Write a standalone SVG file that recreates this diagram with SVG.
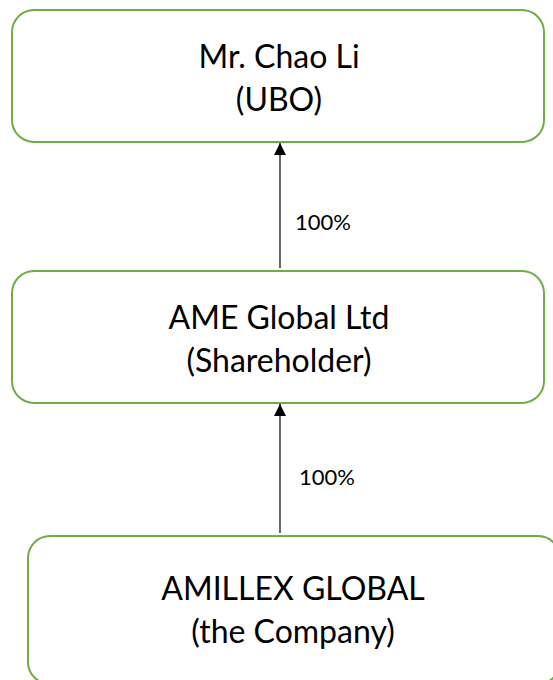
<svg xmlns="http://www.w3.org/2000/svg" width="553" height="680" viewBox="0 0 553 680">
<defs>
<style>
.box{fill:#fff;stroke:#70AD47;stroke-width:2}
.t{font-family:Lato,"Liberation Sans",sans-serif;font-size:32px;fill:#000;text-anchor:middle}
.lbl{font-family:Lato,"Liberation Sans",sans-serif;font-size:22px;fill:#000}
.edge{stroke:#000;stroke-width:1.2;fill:none}
</style>
<marker id="ah" viewBox="0 0 12 12" refX="12" refY="6" markerWidth="12" markerHeight="12" markerUnits="userSpaceOnUse" orient="auto">
<path d="M0,0 L12,6 L0,12 Z" fill="#000"/>
</marker>
</defs>
<rect width="553" height="680" fill="#fff"/>
<g id="connectors">
<line class="edge" x1="280" y1="268" x2="280" y2="143" marker-end="url(#ah)"/>
<line class="edge" x1="280" y1="533" x2="280" y2="404" marker-end="url(#ah)"/>
<text class="lbl" x="295" y="230">100%</text>
<text class="lbl" x="299" y="485">100%</text>
</g>
<g id="ubo">
<rect class="box" x="12" y="10" width="532" height="132" rx="22"/>
<text class="t" x="279" y="68">Mr. Chao Li</text>
<text class="t" x="279" y="111">(UBO)</text>
</g>
<g id="shareholder">
<rect class="box" x="12" y="271" width="532" height="132" rx="22"/>
<text class="t" x="279" y="329">AME Global Ltd</text>
<text class="t" x="279" y="372">(Shareholder)</text>
</g>
<g id="company">
<rect class="box" x="28" y="536" width="532" height="148" rx="22"/>
<text class="t" x="293" y="600">AMILLEX GLOBAL</text>
<text class="t" x="293" y="643">(the Company)</text>
</g>
</svg>
